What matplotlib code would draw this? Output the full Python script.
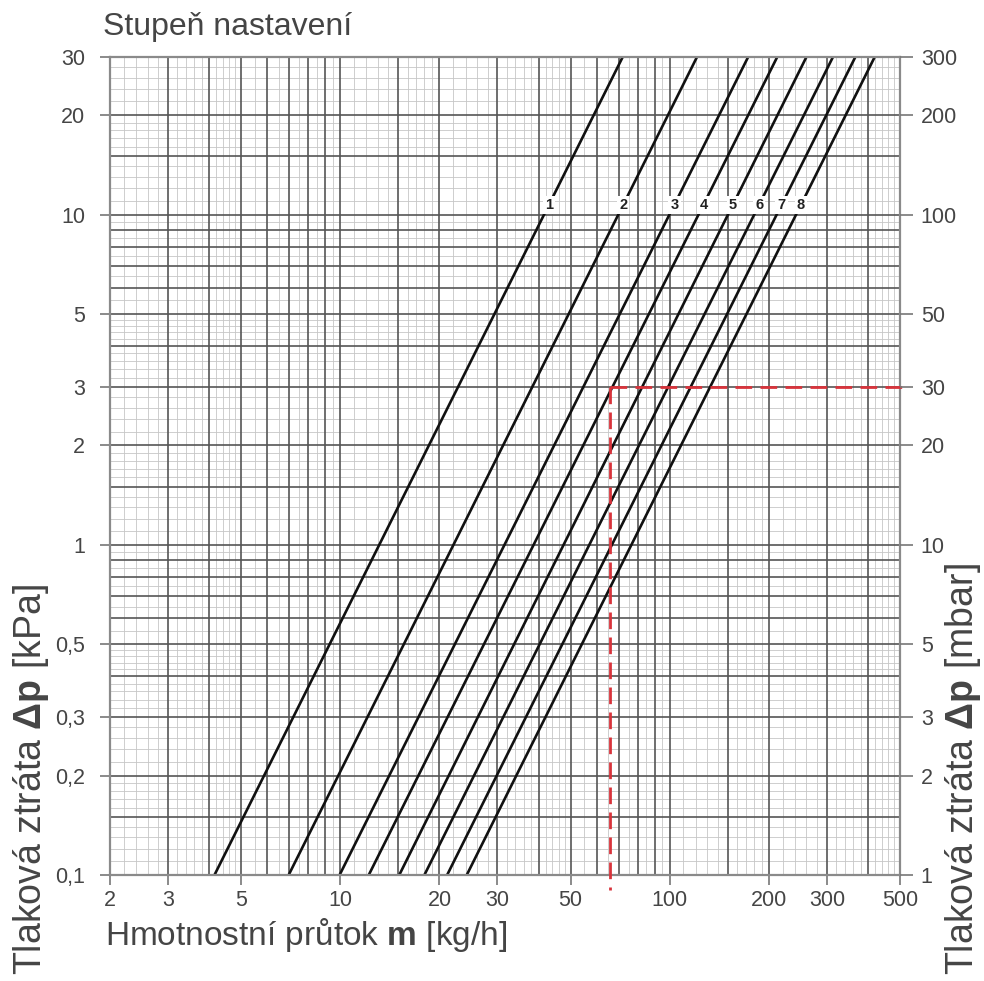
import numpy as np
import matplotlib
matplotlib.use("Agg")
import matplotlib.pyplot as plt
from matplotlib.ticker import FixedLocator, FixedFormatter, NullLocator

plt.rcParams['font.family'] = ['Liberation Sans', 'DejaVu Sans']
plt.rcParams['mathtext.fontset'] = 'custom'
plt.rcParams['mathtext.rm'] = 'Liberation Sans'
plt.rcParams['mathtext.bf'] = 'Liberation Sans:bold'

# ---- data ----
settings = ["1", "2", "3", "4", "5", "6", "7", "8"]
dp_low = 0.1      # kPa, bottom of the chart
dp_high = 30.0    # kPa, top of the chart
m_at_low = [4.15, 6.97, 9.95, 12.2, 15.1, 18.0, 21.1, 24.2]      # kg/h at 0.1 kPa
m_at_high = [72.0, 121.0, 173.0, 212.0, 260.0, 313.0, 366.0, 419.0]  # kg/h at 30 kPa
label_dp = 10.7   # kPa, height of the setting labels

example_m = 66.0   # kg/h
example_dp = 3.0   # kPa

x_ticks = [2, 3, 5, 10, 20, 30, 50, 100, 200, 300, 500]
x_ticklabels = ["2", "3", "5", "10", "20", "30", "50", "100", "200", "300", "500"]
y_ticks = [0.1, 0.2, 0.3, 0.5, 1, 2, 3, 5, 10, 20, 30]
y_ticklabels = ["0,1", "0,2", "0,3", "0,5", "1", "2", "3", "5", "10", "20", "30"]
y2_ticks = [1, 2, 3, 5, 10, 20, 30, 50, 100, 200, 300]
y2_ticklabels = ["1", "2", "3", "5", "10", "20", "30", "50", "100", "200", "300"]

x_major_grid = [2, 3, 4, 5, 6, 7, 8, 9, 10, 15, 20, 30, 40, 50, 60, 70, 80, 90,
                100, 150, 200, 300, 400, 500]
y_major_grid = [0.1, 0.15, 0.2, 0.3, 0.4, 0.5, 0.6, 0.7, 0.8, 0.9, 1, 1.5, 2, 3, 4,
                5, 6, 7, 8, 9, 10, 15, 20, 30]

def minor_values(lo, hi):
    vals = []
    dec = 10.0 ** np.floor(np.log10(lo) - 1)
    while dec <= hi:
        for base, step, end in [(1.0, 0.1, 2.0), (2.0, 0.2, 5.0), (5.0, 0.5, 10.0)]:
            v = base
            while v < end - 1e-9:
                val = round(v * dec, 6)
                if lo < val < hi:
                    vals.append(val)
                v += step
        dec *= 10
    return vals

x_minor_grid = [v for v in minor_values(2, 500) if v not in x_major_grid]
y_minor_grid = [v for v in minor_values(0.1, 30) if v not in y_major_grid]

# ---- figure ----
fig = plt.figure(figsize=(9.84, 9.81), dpi=100)
ax = fig.add_axes([0.1118, 0.108, 0.9146 - 0.1118, 0.9419 - 0.108])
ax.set_xscale('log')
ax.set_yscale('log')
ax.set_xlim(2, 500)
ax.set_ylim(0.1, 30)

for v in x_minor_grid:
    ax.axvline(v, color='#c6c6c6', lw=0.6, zorder=1)
for v in y_minor_grid:
    ax.axhline(v, color='#c6c6c6', lw=0.6, zorder=1)
for v in x_major_grid:
    ax.axvline(v, color='#555555', lw=1.2, zorder=2)
for v in y_major_grid:
    ax.axhline(v, color='#555555', lw=1.2, zorder=2)

for lab, m0, m1 in zip(settings, m_at_low, m_at_high):
    ax.plot([m0, m1], [dp_low, dp_high], color='#111111', lw=1.9, zorder=4,
            solid_capstyle='butt')
    f = np.log10(label_dp / dp_low) / np.log10(dp_high / dp_low)
    xm = 10 ** (np.log10(m0) + f * (np.log10(m1) - np.log10(m0)))
    ax.text(xm, label_dp, lab, ha='center', va='center', fontsize=10.5,
            fontweight='bold', color='#222222', zorder=6,
            bbox=dict(boxstyle='square,pad=0.15', fc='white', ec='none'))

red = '#d8333b'
ax.plot([example_m, 515], [example_dp, example_dp], color=red, lw=2.0,
        dashes=(6, 3), clip_on=False, zorder=7)
ax.plot([example_m, example_m], [example_dp, 0.09], color=red, lw=2.0,
        dashes=(6, 3), clip_on=False, zorder=7)

for s in ax.spines.values():
    s.set_color('#8a8a8a')
    s.set_linewidth(1.6)
    s.set_zorder(5)

txtc = '#454545'
ax.xaxis.set_major_locator(FixedLocator(x_ticks))
ax.xaxis.set_major_formatter(FixedFormatter(x_ticklabels))
ax.xaxis.set_minor_locator(NullLocator())
ax.yaxis.set_major_locator(FixedLocator(y_ticks))
ax.yaxis.set_major_formatter(FixedFormatter(y_ticklabels))
ax.yaxis.set_minor_locator(NullLocator())
ax.tick_params(axis='both', which='major', direction='out', length=7,
               width=1.2, color='#777777', labelsize=15.5, labelcolor=txtc)
ax.tick_params(axis='x', pad=4)
ax.tick_params(axis='y', pad=11)

ax2 = ax.twinx()
ax2.set_yscale('log')
ax2.set_ylim(1, 300)
ax2.yaxis.set_major_locator(FixedLocator(y2_ticks))
ax2.yaxis.set_major_formatter(FixedFormatter(y2_ticklabels))
ax2.yaxis.set_minor_locator(NullLocator())
ax2.tick_params(axis='y', which='major', direction='out', length=9, width=1.2,
                color='#777777', labelsize=15.5, labelcolor=txtc, pad=6)
for s in ax2.spines.values():
    s.set_visible(False)

fig.text(0.105, 0.972, "Stupeň nastavení", fontsize=23, color=txtc,
         ha='left', va='center')
fig.text(0.107, 0.047, r"Hmotnostní průtok $\mathbf{m}$ [kg/h]", fontsize=24,
         color=txtc, ha='left', va='center')
fig.text(0.031, 0.006, r"Tlaková ztráta $\mathbf{\Delta p}$ [kPa]", fontsize=27,
         color=txtc, rotation=90, ha='center', va='bottom')
fig.text(0.979, 0.006, r"Tlaková ztráta $\mathbf{\Delta p}$ [mbar]", fontsize=27,
         color=txtc, rotation=90, ha='center', va='bottom')

fig.savefig("out.png", dpi=100, facecolor='white')
